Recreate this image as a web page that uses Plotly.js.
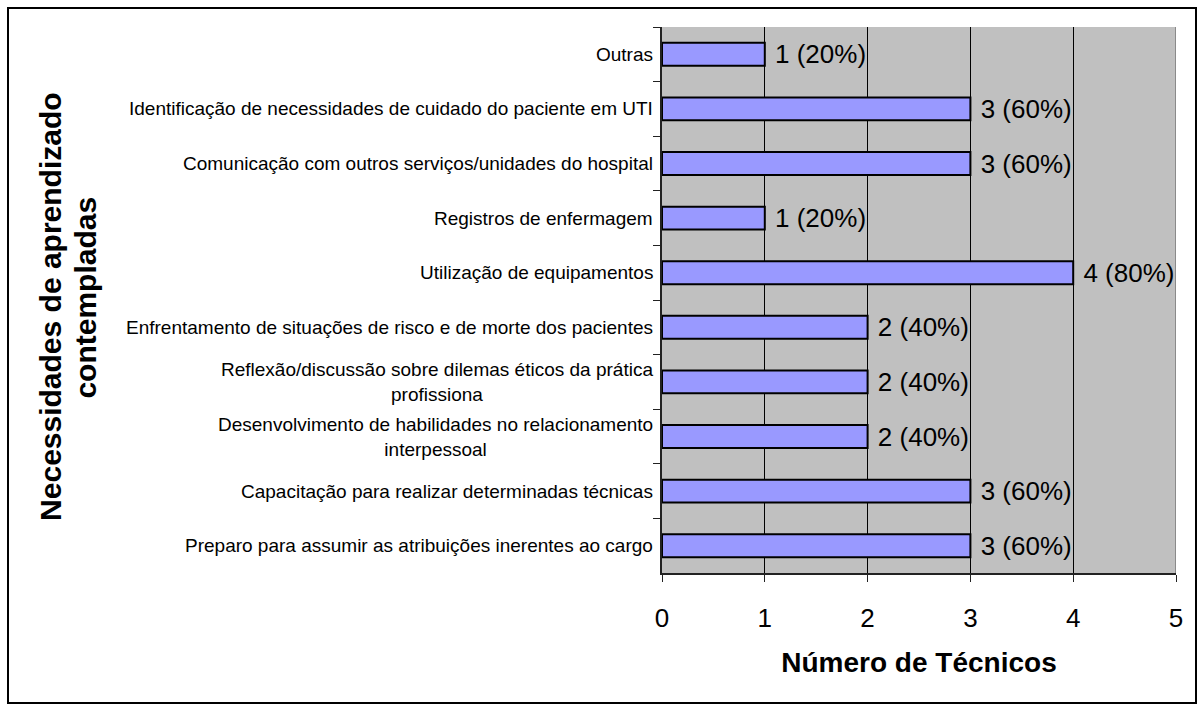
<!DOCTYPE html>
<html>
<head>
<meta charset="utf-8">
<script src="https://cdn.plot.ly/plotly-3.0.1.min.js"></script>
<style>
  html, body { margin: 0; padding: 0; background: #ffffff; }
  #wrap { position: relative; width: 1202px; height: 709px; }
  #chart { width: 1202px; height: 709px; }
  #frame { position: absolute; left: 7px; top: 7px; width: 1186px; height: 693px;
           border: 2px solid #000; pointer-events: none; }
</style>
</head>
<body>
<div id="wrap">
  <div id="chart"></div>
  <div id="frame"></div>
</div>
<script>
// Categories listed top to bottom as they appear in the chart
const categories = [
  "Outras",
  "Identificação de necessidades de cuidado do paciente em UTI",
  "Comunicação com outros serviços/unidades do hospital",
  "Registros de enfermagem",
  "Utilização de equipamentos",
  "Enfrentamento de situações de risco e de morte dos pacientes",
  "Reflexão/discussão sobre dilemas éticos da prática<br>profissiona",
  "Desenvolvimento de habilidades no relacionamento<br>interpessoal",
  "Capacitação para realizar determinadas técnicas",
  "Preparo para assumir as atribuições inerentes ao cargo"
];
const counts   = [1, 3, 3, 1, 4, 2, 2, 2, 3, 3];
const percents = [20, 60, 60, 20, 80, 40, 40, 40, 60, 60];
const xTicks   = [0, 1, 2, 3, 4, 5];
const yTitleLines = ["Necessidades de aprendizado", "contempladas"];

const FONT = "Liberation Sans, Arial, Helvetica, sans-serif";
const barLabels = counts.map((c, i) => "\u00A0" + c + " (" + percents[i] + "%)");

const trace = {
  type: "bar",
  orientation: "h",
  x: counts,
  y: categories,
  marker: { color: "#9999FF", line: { color: "#000000", width: 2 } },
  text: barLabels,
  textposition: "outside",
  constraintext: "none",
  cliponaxis: false,
  textfont: { family: FONT, size: 26, color: "#000" },
  hoverinfo: "none"
};

const catAnnotations = categories.map(c => ({
  xref: "paper", yref: "y",
  x: 0, y: c,
  xanchor: "right", yanchor: "middle",
  xshift: -7,
  align: "center",
  text: c,
  showarrow: false,
  font: { family: FONT, size: 19, color: "#000" }
}));

const yTitleAnn = [
  { x: -1.19, y: 0.488, text: yTitleLines[0] },
  { x: -1.122, y: 0.505, text: yTitleLines[1] }
].map(a => ({
  xref: "paper", yref: "paper",
  x: a.x, y: a.y,
  xanchor: "center", yanchor: "middle",
  textangle: -90,
  text: "<b>" + a.text + "</b>",
  showarrow: false,
  font: { family: FONT, size: 30, color: "#000" }
}));

const layout = {
  width: 1202, height: 709,
  margin: { l: 662, r: 26, t: 27, b: 136 },
  paper_bgcolor: "#ffffff",
  plot_bgcolor: "#C0C0C0",
  showlegend: false,
  bargap: 0.58,
  font: { family: FONT, color: "#000" },
  xaxis: {
    range: [0, 5],
    tickvals: xTicks,
    ticktext: xTicks.map(String),
    ticks: "outside", ticklen: 7, tickcolor: "#222", tickwidth: 1,
    ticklabelstandoff: 14,
    showline: true, linecolor: "#222", linewidth: 2,
    showgrid: true, gridcolor: "#000", gridwidth: 1,
    zeroline: false,
    tickfont: { family: FONT, size: 26, color: "#000" },
    title: { text: "<b>Número de Técnicos</b>", standoff: 20,
             font: { family: FONT, size: 28, color: "#000" } },
    fixedrange: true
  },
  yaxis: {
    type: "category",
    autorange: "reversed",
    tickson: "boundaries",
    ticks: "outside", ticklen: 7, tickcolor: "#222", tickwidth: 1,
    showticklabels: false,
    showline: true, linecolor: "#222", linewidth: 2,
    showgrid: false, zeroline: false,
    fixedrange: true
  },
  shapes: [{
    type: "line", xref: "x", yref: "paper",
    x0: xTicks[xTicks.length - 1], x1: xTicks[xTicks.length - 1], y0: 0, y1: 1,
    line: { color: "#8a8a8a", width: 2 }, layer: "above"
  }],
  annotations: catAnnotations.concat(yTitleAnn)
};

Plotly.newPlot("chart", [trace], layout, { displayModeBar: false, staticPlot: true });
</script>
</body>
</html>
